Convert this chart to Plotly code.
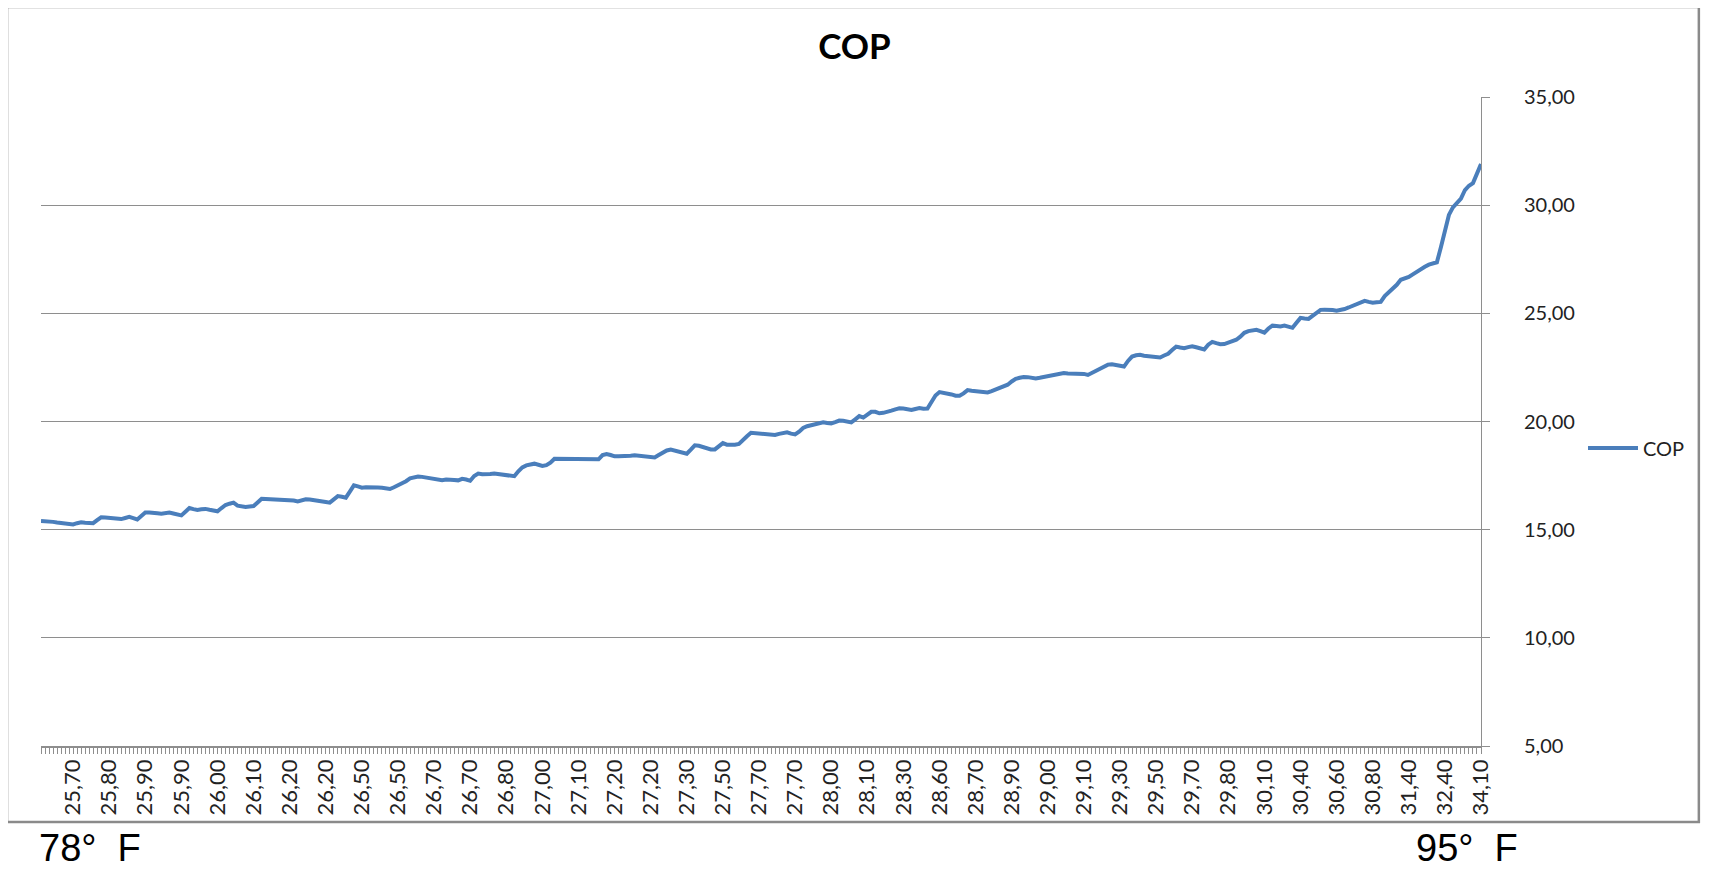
import plotly.graph_objects as go

# ---- data ----
cop = [
    15.40, 15.40, 15.40, 15.36, 15.33, 15.30, 15.28, 15.26, 15.24, 15.30,
    15.34, 15.32, 15.30, 15.30, 15.44, 15.57, 15.56, 15.55, 15.54, 15.52,
    15.49, 15.54, 15.59, 15.53, 15.47, 15.63, 15.79, 15.79, 15.79, 15.76,
    15.74, 15.77, 15.79, 15.75, 15.70, 15.66, 15.83, 16.00, 15.95, 15.91,
    15.94, 15.96, 15.92, 15.89, 15.85, 16.00, 16.14, 16.20, 16.25, 16.11,
    16.08, 16.05, 16.07, 16.09, 16.26, 16.43, 16.42, 16.41, 16.40, 16.38,
    16.37, 16.36, 16.39, 16.35, 16.31, 16.36, 16.40, 16.39, 16.37, 16.36,
    16.32, 16.28, 16.25, 16.40, 16.55, 16.52, 16.48, 16.76, 17.05, 17.00,
    16.94, 16.96, 16.97, 16.96, 16.95, 16.94, 16.91, 16.88, 16.96, 17.05,
    17.11, 17.24, 17.37, 17.42, 17.46, 17.44, 17.41, 17.39, 17.35, 17.31,
    17.29, 17.32, 17.33, 17.30, 17.28, 17.35, 17.32, 17.26, 17.48, 17.59,
    17.56, 17.55, 17.57, 17.60, 17.58, 17.56, 17.53, 17.50, 17.47, 17.70,
    17.88, 17.97, 18.01, 18.05, 18.00, 17.95, 17.98, 18.10, 18.28, 18.28,
    18.28, 18.28, 18.28, 18.27, 18.27, 18.26, 18.26, 18.25, 18.25, 18.25,
    18.45, 18.50, 18.45, 18.39, 18.39, 18.39, 18.39, 18.42, 18.44, 18.42,
    18.40, 18.38, 18.36, 18.34, 18.45, 18.58, 18.66, 18.70, 18.66, 18.63,
    18.57, 18.51, 18.70, 18.90, 18.88, 18.83, 18.75, 18.71, 18.71, 18.85,
    19.00, 18.93, 18.92, 18.93, 18.96, 19.16, 19.32, 19.48, 19.46, 19.45,
    19.43, 19.42, 19.40, 19.38, 19.43, 19.48, 19.50, 19.44, 19.40, 19.53,
    19.70, 19.78, 19.82, 19.84, 19.90, 19.96, 19.93, 19.91, 19.97, 20.04,
    20.03, 20.00, 19.96, 20.10, 20.25, 20.18, 20.30, 20.45, 20.45, 20.38,
    20.40, 20.43, 20.50, 20.56, 20.61, 20.60, 20.56, 20.53, 20.58, 20.62,
    20.59, 20.60, 20.90, 21.20, 21.36, 21.33, 21.30, 21.25, 21.19, 21.19,
    21.30, 21.45, 21.42, 21.39, 21.37, 21.35, 21.34, 21.40, 21.48, 21.55,
    21.61, 21.70, 21.85, 21.97, 22.02, 22.06, 22.05, 22.02, 21.99, 22.02,
    22.06, 22.10, 22.15, 22.20, 22.24, 22.24, 22.22, 22.21, 22.22, 22.23,
    22.20, 22.15, 22.25, 22.33, 22.48, 22.58, 22.63, 22.65, 22.62, 22.58,
    22.54, 22.80, 23.00, 23.06, 23.08, 23.04, 23.01, 22.99, 22.97, 22.96,
    23.05, 23.13, 23.30, 23.46, 23.42, 23.39, 23.44, 23.48, 23.43, 23.38,
    23.33, 23.55, 23.68, 23.62, 23.57, 23.58, 23.65, 23.71, 23.78, 23.92,
    24.10, 24.18, 24.22, 24.24, 24.18, 24.11, 24.30, 24.43, 24.41, 24.39,
    24.43, 24.40, 24.33, 24.56, 24.79, 24.76, 24.74, 24.88, 25.02, 25.16,
    25.17, 25.18, 25.15, 25.12, 25.15, 25.20, 25.27, 25.35, 25.42, 25.50,
    25.58, 25.53, 25.49, 25.51, 25.53, 25.80, 25.98, 26.10, 26.32, 26.55,
    26.62, 26.68, 26.80, 26.93, 27.05, 27.15, 27.25, 27.30, 27.36, 28.05,
    28.74, 29.55, 29.90, 30.10, 30.30, 30.70, 30.90, 31.02, 31.45, 31.90,
]

# category tick labels (every 9th category is labelled)
tick_labels = [
    "25,70", "25,80", "25,90", "25,90", "26,00", "26,10", "26,20", "26,20",
    "26,50", "26,50", "26,70", "26,70", "26,80", "27,00", "27,10", "27,20",
    "27,20", "27,30", "27,50", "27,70", "27,70", "28,00", "28,10", "28,30",
    "28,60", "28,70", "28,90", "29,00", "29,10", "29,30", "29,50", "29,70",
    "29,80", "30,10", "30,40", "30,60", "30,80", "31,40", "32,40", "34,10",
]
first_label_index = 8
label_step = 9

series_name = "COP"
left_note = "78°\u00a0\u00a0F"
right_note = "95°\u00a0\u00a0F"

x_idx = list(range(len(cop)))
tick_vals = [first_label_index + k * label_step for k in range(len(tick_labels))]

# page body has an 8px margin; the figure is sized so the page fits the window
OFF = 8
W, H = 1709 - 2 * OFF, 879 - 2 * OFF
# plot area in reference-screen pixels
L, R, T, B = 41, 1482, 97, 746


def px_x(p):
    return (p - L) / (R - L)


def px_y(p):
    return (B - p) / (B - T)


GRID = "#8e8e8e"
FONT = "Lato, 'Open Sans', Arial, sans-serif"
NOTE_FONT = "Liberation Sans, Arial, sans-serif"

fig = go.Figure()
fig.add_trace(go.Scatter(
    x=x_idx, y=cop, mode="lines", name=series_name,
    line=dict(color="#4a7ebb", width=4),
))

fig.update_layout(
    width=W, height=H,
    margin=dict(l=L - OFF, r=(W + OFF) - R, t=T - OFF, b=(H + OFF) - B),
    paper_bgcolor="white", plot_bgcolor="white",
    separators=",.",
    font=dict(family=FONT, color="#333333"),
    title=dict(text="<b>COP</b>", x=(854.5 - OFF) / W, xref="container", xanchor="center",
               y=1 - (47 - OFF) / H, yref="container", yanchor="middle",
               font=dict(family=FONT, size=35, color="#000000")),
    showlegend=True,
    legend=dict(x=px_x(1583), xanchor="left", y=px_y(448), yanchor="middle",
                font=dict(family=FONT, size=20, color="#222222"),
                bgcolor="rgba(0,0,0,0)", itemwidth=50),
    xaxis=dict(
        range=[0, len(cop) - 1],
        tickmode="array", tickvals=tick_vals, ticktext=tick_labels,
        tickangle=-90, ticks="outside", ticklen=6, tickcolor=GRID,
        minor=dict(ticks="outside", ticklen=6, tickcolor=GRID, dtick=1, tick0=0,
                   showgrid=False),
        showgrid=False, zeroline=False,
        showline=True, linecolor=GRID, linewidth=1.5,
        tickfont=dict(family=FONT, size=22, color="#222222"),
        ticklabelstandoff=-3,
    ),
    yaxis=dict(
        range=[5, 35], dtick=5, tick0=5, tickformat=".2f",
        side="right", ticks="outside", ticklen=8, tickcolor=GRID,
        showgrid=True, gridcolor=GRID, gridwidth=1,
        zeroline=False, showline=True, linecolor=GRID, linewidth=1,
        tickfont=dict(family=FONT, size=20, color="#222222"),
        ticklabelstandoff=30,
    ),
    shapes=[dict(type="rect", xref="paper", yref="paper",
                 x0=px_x(7), x1=px_x(1700), y0=px_y(822), y1=px_y(7),
                 line=dict(color="#8a8a8a", width=2.5), layer="below")],
    annotations=[
        dict(text=left_note, xref="paper", yref="paper", x=px_x(38), y=px_y(870),
             xanchor="left", yanchor="bottom", showarrow=False, borderpad=0,
             font=dict(family=NOTE_FONT, size=38, color="#000000")),
        dict(text=right_note, xref="paper", yref="paper", x=px_x(1416), y=px_y(870),
             xanchor="left", yanchor="bottom", showarrow=False, borderpad=0,
             font=dict(family=NOTE_FONT, size=38, color="#000000")),
    ],
)

fig.write_html("out.html")
